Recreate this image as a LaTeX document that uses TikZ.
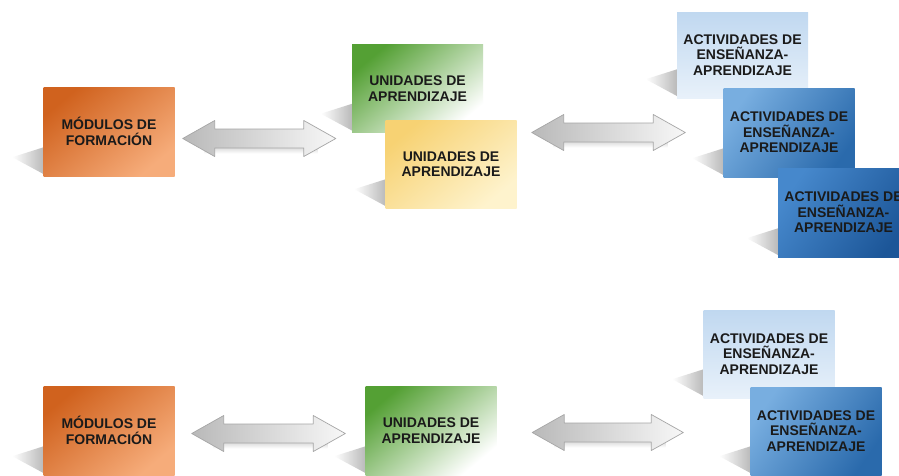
\documentclass[tikz,border=0pt]{standalone}
\usepackage{fontspec}
\setmainfont{Liberation Sans}
\usetikzlibrary{calc}
\pgfdeclarelayer{background}
\pgfsetlayers{background,main}

\definecolor{txt}{RGB}{26,26,26}
\definecolor{orA}{RGB}{208,98,30}
\definecolor{orB}{RGB}{246,172,122}
\definecolor{grA}{RGB}{84,160,52}
\definecolor{grM}{RGB}{130,192,98}
\definecolor{yeA}{RGB}{247,210,115}
\definecolor{yeB}{RGB}{254,243,205}
\definecolor{blLa}{RGB}{192,216,240}
\definecolor{blLb}{RGB}{232,241,250}
\definecolor{blMa}{RGB}{120,174,224}
\definecolor{blMb}{RGB}{42,106,172}
\definecolor{blDa}{RGB}{70,136,204}
\definecolor{blDb}{RGB}{28,86,152}

\tikzset{
  box/.style={rectangle, minimum width=131pt, minimum height=88pt, inner sep=0pt,
    align=center, text=txt, font=\fontsize{14}{15.5}\selectfont\bfseries},
  orangebox/.style={box, left color=orA, right color=orB, shading angle=40},
  greenbox/.style={box, left color=grA, middle color=grM, right color=white, shading angle=40},
  yellowbox/.style={box, left color=yeA, right color=yeB, shading angle=40},
  palebluebox/.style={box, top color=blLa, bottom color=blLb},
  midbluebox/.style={box, left color=blMa, right color=blMb, shading angle=55},
  darkbluebox/.style={box, left color=blDa, right color=blDb, shading angle=55},
  boxshade/.style={left color=white, right color=gray!55},
  arrowbody/.style={draw=gray!70, line width=0.7pt, line join=round,
    left color=gray!55, right color=gray!6},
  arrowshade/.style={top color=gray!28, bottom color=white},
}

% soft wedge-shaped shadow at the lower left corner of a box
\newcommand\cornershadow[1]{%
  \shade[boxshade] ($(#1.south west)+(0.5,-29)$) -- ($(#1.south west)+(-31,-19)$)
    -- ($(#1.south west)+(0.5,-2)$) -- cycle;}

% horizontal double block arrow between two tip coordinates
\newcommand\blockarrow[2]{%
  \shade[arrowshade] let \p1=(#1), \p2=(#2) in
    (\x1+22pt,\y1-9pt) rectangle (\x2-18pt,\y1-15pt);
  \shade[arrowbody] let \p1=(#1), \p2=(#2) in
    (\x1,\y1) -- (\x1+32pt,\y1+18pt) -- (\x1+32pt,\y1+9.5pt)
    -- (\x2-32pt,\y1+9.5pt) -- (\x2-32pt,\y1+18pt) -- (\x2,\y1)
    -- (\x2-32pt,\y1-18pt) -- (\x2-32pt,\y1-9.5pt)
    -- (\x1+32pt,\y1-9.5pt) -- (\x1+32pt,\y1-18pt) -- cycle;}

\begin{document}
\begin{tikzpicture}[x=1pt, y=-1pt]
  \useasboundingbox (0,0) rectangle (899,475);
  \clip (0,0) rectangle (899,475);

  % upper chain
  \node[orangebox, minimum height=89pt] (mod1) at (109,131.5) {MÓDULOS DE\\FORMACIÓN};
  \node[greenbox] (uni1a) at (417.5,88.5) {UNIDADES DE\\APRENDIZAJE};
  \node[yellowbox] (uni1b) at (451,164) {UNIDADES DE\\APRENDIZAJE};
  \node[palebluebox, minimum height=86pt] (act1a) at (742.5,55) {ACTIVIDADES DE\\ENSEÑANZA-\\APRENDIZAJE};
  \node[midbluebox, minimum height=89pt] (act1b) at (789,132.5) {ACTIVIDADES DE\\ENSEÑANZA-\\APRENDIZAJE};
  \node[darkbluebox, minimum height=89pt] (act1c) at (843.5,212.5) {ACTIVIDADES DE\\ENSEÑANZA-\\APRENDIZAJE};

  % lower chain
  \node[orangebox, minimum height=89pt] (mod2) at (109,430.5) {MÓDULOS DE\\FORMACIÓN};
  \node[greenbox, minimum height=89pt] (uni2) at (431,430.5) {UNIDADES DE\\APRENDIZAJE};
  \node[palebluebox] (act2a) at (769,354) {ACTIVIDADES DE\\ENSEÑANZA-\\APRENDIZAJE};
  \node[midbluebox] (act2b) at (816,431) {ACTIVIDADES DE\\ENSEÑANZA-\\APRENDIZAJE};

  \begin{pgfonlayer}{background}
    \fill[white] (0,0) rectangle (899,475);
    \foreach \b in {mod1,uni1a,uni1b,act1a,act1b,act1c,mod2,uni2,act2a,act2b}
      {\cornershadow{\b}}
  \end{pgfonlayer}

  % arrow tips
  \coordinate (a1l) at ($(mod1.east)+(8,7)$);
  \coordinate (a1r) at ($(uni1a.west |- a1l)+(-16,0)$);
  \coordinate (a2l) at ($(uni1b.east)+(15,-31.5)$);
  \coordinate (a2r) at ($(act1b.west |- a2l)+(-38,0)$);
  \coordinate (a3l) at ($(mod2.east)+(17,3)$);
  \coordinate (a3r) at ($(uni2.west |- a3l)+(-20,0)$);
  \coordinate (a4l) at ($(uni2.east)+(35.5,2)$);
  \coordinate (a4r) at ($(act2b.west |- a4l)+(-67,0)$);

  \blockarrow{a1l}{a1r}
  \blockarrow{a2l}{a2r}
  \blockarrow{a3l}{a3r}
  \blockarrow{a4l}{a4r}
\end{tikzpicture}
\end{document}
